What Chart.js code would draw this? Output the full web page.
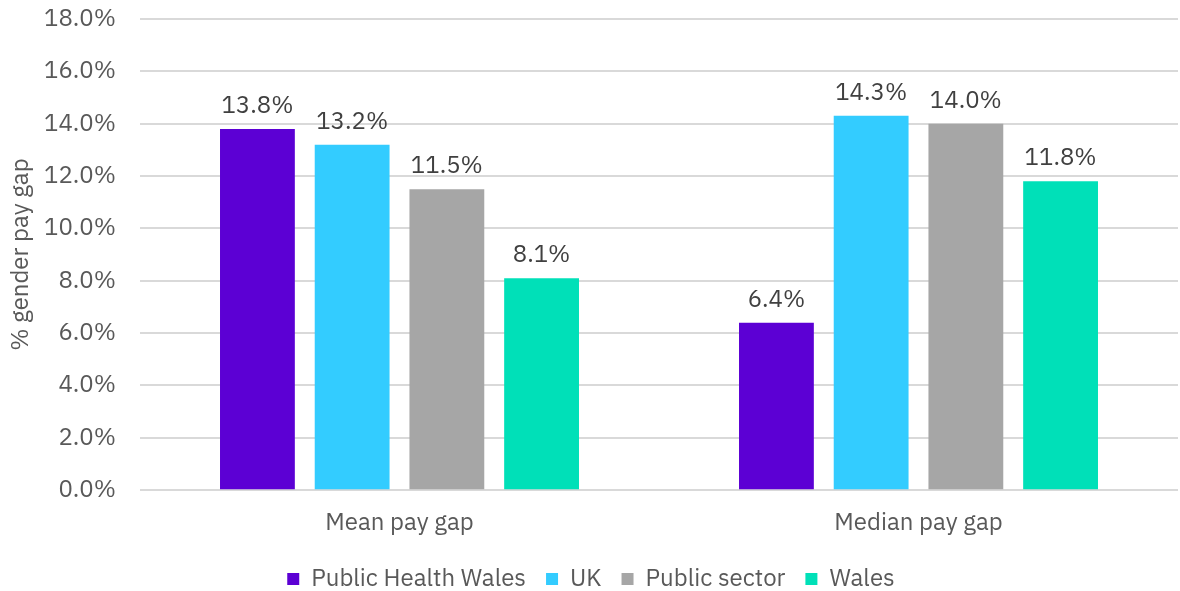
<!DOCTYPE html>
<html>
<head>
<meta charset="utf-8">
<script src="https://cdn.jsdelivr.net/npm/chart.js@4/dist/chart.umd.min.js"></script>
<style>
  html, body { margin: 0; padding: 0; background: #ffffff; }
  #wrap { width: 1180px; height: 591px; position: relative; }
</style>
</head>
<body>
<div id="wrap"><canvas id="chart"></canvas></div>
<script>
// Gender pay gap comparison, values in percent
const categories = ['Mean pay gap', 'Median pay gap'];
const seriesNames = ['Public Health Wales', 'UK', 'Public sector', 'Wales'];
const publicHealthWales = [13.8, 6.4];
const uk = [13.2, 14.3];
const publicSector = [11.5, 14.0];
const wales = [8.1, 11.8];
const yTicks = [0, 2, 4, 6, 8, 10, 12, 14, 16, 18];

const colours = ['#5c00d4', '#33ccff', '#a6a6a6', '#00e0b8'];
const FONT = '"IBM Plex Sans", "Noto Sans", "Open Sans", sans-serif';
const SIZE = 24;

const seriesValues = [publicHealthWales, uk, publicSector, wales];

// Writes each bar's value above it
const valueLabels = {
  id: 'valueLabels',
  afterDatasetsDraw(chart) {
    const ctx = chart.ctx;
    ctx.save();
    ctx.font = SIZE + 'px ' + FONT;
    ctx.fillStyle = '#404040';
    ctx.textAlign = 'center';
    ctx.textBaseline = 'bottom';
    chart.data.datasets.forEach((ds, i) => {
      chart.getDatasetMeta(i).data.forEach((bar, j) => {
        ctx.fillText(ds.data[j].toFixed(1) + '%', bar.x, bar.y - 11);
      });
    });
    ctx.restore();
  }
};

new Chart(document.getElementById('chart'), {
  type: 'bar',
  data: {
    labels: categories,
    datasets: seriesNames.map((name, i) => ({
      label: name,
      data: seriesValues[i],
      backgroundColor: colours[i],
      borderWidth: 0,
      categoryPercentage: 0.73,
      barPercentage: 0.79
    }))
  },
  options: {
    responsive: true,
    maintainAspectRatio: false,
    animation: false,
    layout: { padding: { top: 0, right: 2, left: 4, bottom: -10 } },
    plugins: {
      legend: {
        position: 'bottom',
        labels: {
          color: '#595959',
          font: { size: SIZE, family: FONT },
          boxWidth: 12,
          boxHeight: 12,
          padding: 20
        }
      },
      tooltip: { enabled: false }
    },
    scales: {
      x: {
        grid: { display: false },
        border: { display: false },
        ticks: { color: '#595959', font: { size: SIZE, family: FONT }, padding: 10 }
      },
      y: {
        min: 0,
        max: 18,
        afterBuildTicks(axis) { axis.ticks = yTicks.map(v => ({ value: v })); },
        afterFit(axis) {
          axis.width = 136;
          axis.paddingTop = 19;
          axis.paddingBottom = 14;
        },
        border: { display: false },
        grid: { color: '#d9d9d9', lineWidth: 2, drawTicks: false },
        ticks: {
          color: '#595959',
          font: { size: SIZE, family: FONT },
          padding: 24,
          callback: v => v.toFixed(1) + '%'
        },
        title: {
          display: true,
          text: '% gender pay gap',
          color: '#595959',
          font: { size: SIZE, family: FONT },
          padding: { top: 3, bottom: 2 }
        }
      }
    }
  },
  plugins: [valueLabels]
});
</script>
</body>
</html>
